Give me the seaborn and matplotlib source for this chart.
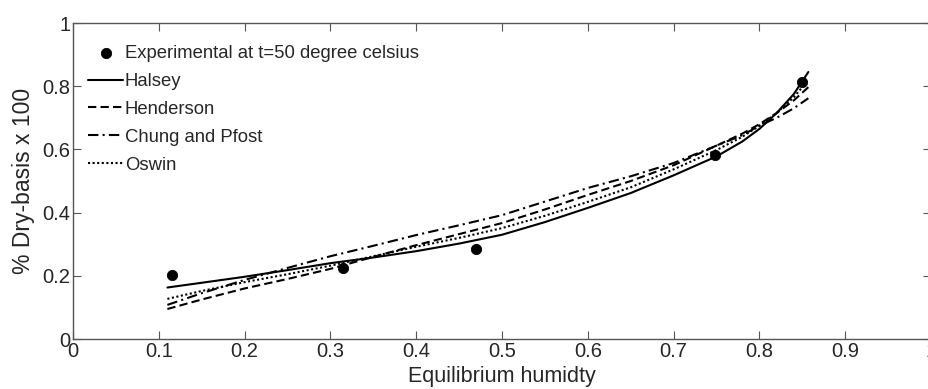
import pandas as pd
import numpy as np
import seaborn as sns
import matplotlib.pyplot as plt

# experimental points (t = 50 C)
exp_x = [0.115, 0.315, 0.47, 0.748, 0.85]
exp_y = [0.203, 0.226, 0.285, 0.583, 0.813]

# fitted curves
fit_x = [0.11, 0.15, 0.2, 0.25, 0.3, 0.35, 0.4, 0.45, 0.5, 0.55, 0.6,
         0.65, 0.7, 0.75, 0.78, 0.8, 0.82, 0.84, 0.857]
halsey = [0.163, 0.178, 0.197, 0.218, 0.24, 0.258, 0.278, 0.302, 0.33, 0.37,
          0.415, 0.462, 0.518, 0.578, 0.625, 0.665, 0.715, 0.775, 0.845]
henderson = [0.095, 0.125, 0.16, 0.19, 0.222, 0.26, 0.297, 0.332, 0.367, 0.41,
             0.456, 0.5, 0.55, 0.612, 0.65, 0.68, 0.715, 0.755, 0.797]
chung = [0.108, 0.145, 0.187, 0.225, 0.262, 0.295, 0.329, 0.36, 0.392, 0.435,
         0.478, 0.515, 0.557, 0.612, 0.645, 0.675, 0.7, 0.73, 0.762]
oswin = [0.127, 0.152, 0.18, 0.205, 0.232, 0.262, 0.292, 0.32, 0.351, 0.39,
         0.434, 0.48, 0.537, 0.598, 0.64, 0.675, 0.715, 0.765, 0.82]

models = ["Halsey", "Henderson", "Chung and Pfost", "Oswin"]
curves = [halsey, henderson, chung, oswin]

df = pd.concat([pd.DataFrame({"x": fit_x, "y": c, "model": m})
                for m, c in zip(models, curves)], ignore_index=True)
df_exp = pd.DataFrame({"x": exp_x, "y": exp_y})

sns.set_style("ticks")
plt.rcParams["font.family"] = ["Liberation Sans", "DejaVu Sans"]

fig = plt.figure(figsize=(9.29, 3.89), dpi=100)
ax = fig.add_axes([0.0786, 0.1285, 0.9236, 0.8123])

sns.scatterplot(data=df_exp, x="x", y="y", ax=ax, color="black", s=55,
                edgecolor="black", label="Experimental at t=50 degree celsius",
                zorder=3)
dashes = {"Halsey": "", "Henderson": (4, 2), "Chung and Pfost": (5, 2, 1, 2),
          "Oswin": (1, 1.2)}
sns.lineplot(data=df, x="x", y="y", style="model", dashes=dashes,
             color="black", linewidth=1.5, ax=ax, sort=False)

ax.set_xlim(0, 1)
ax.set_ylim(0, 1)
ax.set_xticks(np.arange(0, 1.01, 0.1))
ax.set_xticklabels(["0", "0.1", "0.2", "0.3", "0.4", "0.5", "0.6", "0.7",
                    "0.8", "0.9", "1"])
ax.set_yticks(np.arange(0, 1.01, 0.2))
ax.set_yticklabels(["0", "0.2", "0.4", "0.6", "0.8", "1"])
ax.tick_params(direction="in", top=True, right=True, length=6,
               labelsize=14.5, color="#555555", pad=2)
for s in ax.spines.values():
    s.set_color("#555555")
    s.set_linewidth(1.0)
ax.set_xlabel("Equilibrium humidty", fontsize=15.5, labelpad=4)
ax.set_ylabel("% Dry-basis x 100", fontsize=16.5, labelpad=5)

ax.legend(loc="upper left", bbox_to_anchor=(0.0175, 0.93), frameon=False,
          fontsize=13.3, handlelength=1.9, handletextpad=0.1,
          labelspacing=0.59, borderpad=0, borderaxespad=0)

fig.savefig("out.png", dpi=100)
